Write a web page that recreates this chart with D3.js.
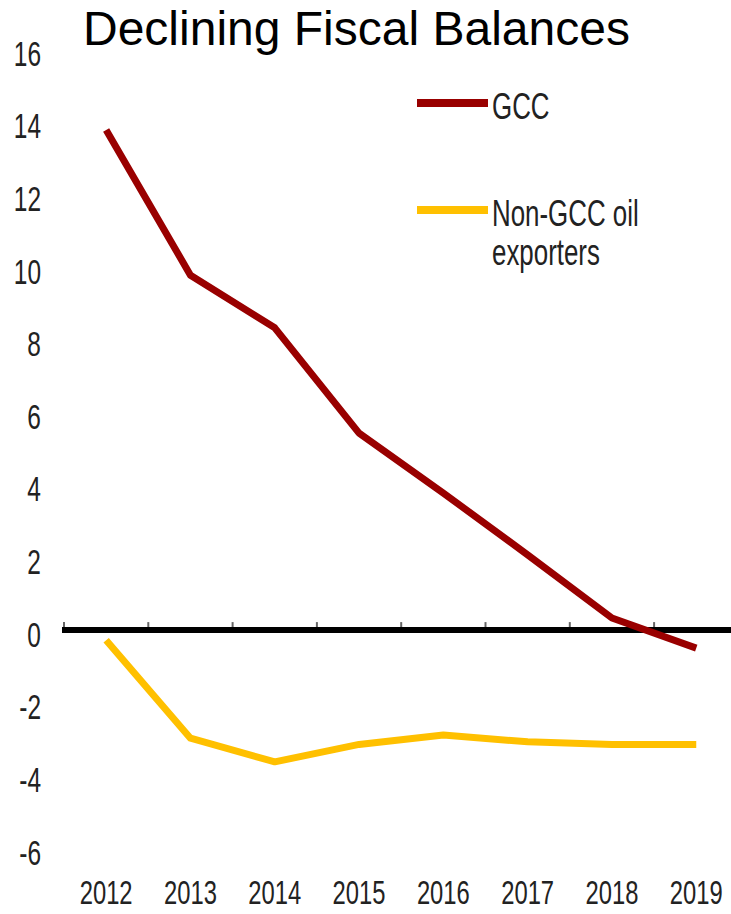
<!DOCTYPE html>
<html>
<head>
<meta charset="utf-8">
<script src="https://cdn.jsdelivr.net/npm/d3@7"></script>
<style>
  html, body { margin: 0; padding: 0; background: #fff; }
  svg { display: block; }
</style>
</head>
<body>
<svg id="chart" width="731" height="914"></svg>
<script>
const years = ["2012","2013","2014","2015","2016","2017","2018","2019"];
const gcc = [13.8, 9.8, 8.35, 5.45, 3.8, 2.1, 0.36, -0.47];
const nonGcc = [-0.25, -2.95, -3.6, -3.12, -2.86, -3.05, -3.12, -3.12];
const yTicks = [16, 14, 12, 10, 8, 6, 4, 2, 0, -2, -4, -6];
const seriesNames = ["GCC", "Non-GCC oil|exporters"];
const seriesColors = ["#990000", "#FFC000"];
const title = "Declining Fiscal Balances";

const svg = d3.select("#chart");
const x = d3.scaleBand().domain(years).range([64, 738.4]);
const y = d3.scaleLinear().domain([-6, 16]).range([849, 50]);
const cx = d => x(d) + x.bandwidth() / 2;
const SX = 0.7; // condensed look of the axis text

// Title
svg.append("text")
  .attr("x", 83).attr("y", 45)
  .attr("font-family", "Liberation Sans, Arial, sans-serif")
  .attr("font-size", 48)
  .attr("fill", "#000")
  .text(title);

// Y tick labels (condensed)
const yl = svg.append("g").attr("transform", `scale(${SX},1)`);
yl.selectAll("text").data(yTicks).enter().append("text")
  .attr("x", 41 / SX)
  .attr("y", d => y(d) + 3)
  .attr("dy", "0.36em")
  .attr("text-anchor", "end")
  .attr("font-family", "Liberation Sans, Arial, sans-serif")
  .attr("font-size", 35)
  .attr("fill", "#222")
  .text(d => d);

// X tick labels (condensed)
const xl = svg.append("g").attr("transform", `scale(${SX},1)`);
xl.selectAll("text").data(years).enter().append("text")
  .attr("x", d => cx(d) / SX)
  .attr("y", 904)
  .attr("text-anchor", "middle")
  .attr("font-family", "Liberation Sans, Arial, sans-serif")
  .attr("font-size", 34)
  .attr("fill", "#222")
  .text(d => d);

// Category tick marks on the zero line
svg.append("g").selectAll("line").data(years).enter().append("line")
  .attr("x1", d => x(d)).attr("x2", d => x(d))
  .attr("y1", y(0) - 9).attr("y2", y(0) - 2)
  .attr("stroke", "#666").attr("stroke-width", 2);

// Zero line
svg.append("line")
  .attr("x1", 62).attr("x2", 731)
  .attr("y1", y(0) - 1).attr("y2", y(0) - 1)
  .attr("stroke", "#000").attr("stroke-width", 6);

// Series lines
const line = d3.line().x((d, i) => cx(years[i])).y(d => y(d));
[gcc, nonGcc].forEach((vals, k) => {
  svg.append("path")
    .attr("d", line(vals))
    .attr("fill", "none")
    .attr("stroke", seriesColors[k])
    .attr("stroke-width", 7)
    .attr("stroke-linejoin", "round");
});

// Legend
const legY = [103, 210];
seriesNames.forEach((name, k) => {
  svg.append("line")
    .attr("x1", 417).attr("x2", 488)
    .attr("y1", legY[k]).attr("y2", legY[k])
    .attr("stroke", seriesColors[k]).attr("stroke-width", 8);
  const g = svg.append("g").attr("transform", `translate(492,0) scale(${SX},1)`);
  name.split("|").forEach((ln, j) => {
    g.append("text")
      .attr("x", 0)
      .attr("y", legY[k] + 16 + j * 39)
      .attr("font-family", "Liberation Sans, Arial, sans-serif")
      .attr("font-size", 37)
      .attr("fill", "#222")
      .text(ln);
  });
});
</script>
</body>
</html>
